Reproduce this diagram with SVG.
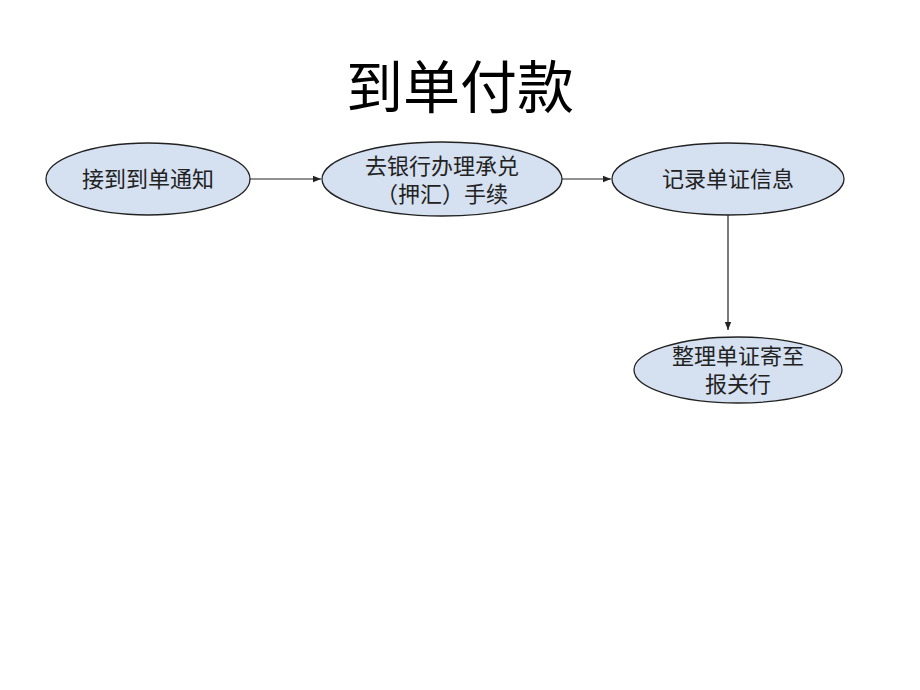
<svg xmlns="http://www.w3.org/2000/svg" width="920" height="690" viewBox="0 0 920 690">
<style>
.node ellipse{fill:#d5e0f0;stroke:#222;stroke-width:1.3}
.node text{font-family:"Liberation Serif","Noto Sans CJK SC",serif;font-size:22px;fill:#222;text-anchor:middle}
.title{font-family:"Noto Sans CJK SC",sans-serif;font-size:57px;fill:#000;text-anchor:middle}
.conn line{stroke:#222;stroke-width:1.2;marker-end:url(#arr)}
</style>
<defs>
<marker id="arr" viewBox="0 0 10 10" refX="10" refY="5" markerWidth="8" markerHeight="8" markerUnits="userSpaceOnUse" orient="auto">
<path d="M0,1 L10,5 L0,9 Z" fill="#222"/>
</marker>
</defs>
<rect width="920" height="690" fill="#fff"/>
<text class="title" x="460" y="108">到单付款</text>
<g class="conn">
<line x1="250" y1="179" x2="321" y2="179"/>
<line x1="562" y1="179" x2="611" y2="179"/>
<line x1="728" y1="215" x2="728" y2="330"/>
</g>
<g id="n1" class="node">
<ellipse cx="148" cy="179" rx="102" ry="36"/>
<text x="148" y="187">接到到单通知</text>
</g>
<g id="n2" class="node">
<ellipse cx="442" cy="179" rx="120" ry="37"/>
<text x="442" y="174">去银行办理承兑</text>
<text x="442" y="202">（押汇）手续</text>
</g>
<g id="n3" class="node">
<ellipse cx="728" cy="179" rx="116" ry="36"/>
<text x="728" y="187">记录单证信息</text>
</g>
<g id="n4" class="node">
<ellipse cx="738" cy="370" rx="104" ry="33"/>
<text x="738" y="364">整理单证寄至</text>
<text x="738" y="392">报关行</text>
</g>
</svg>
